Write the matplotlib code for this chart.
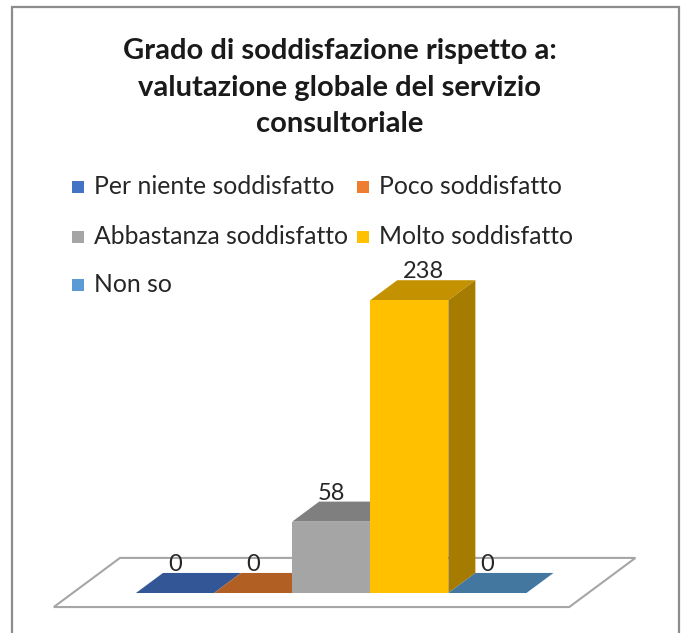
import matplotlib.pyplot as plt
from matplotlib.patches import Polygon, Rectangle

# dati
categorie = ['Per niente soddisfatto', 'Poco soddisfatto', 'Abbastanza soddisfatto',
             'Molto soddisfatto', 'Non so']
valori = [0, 0, 58, 238, 0]
colori = ['#4472C4', '#ED7D31', '#A5A5A5', '#FFC000', '#5B9BD5']
colori_top = ['#335796', '#B25F23', '#7F7F7F', '#C49200', '#44779F']
colori_lato = ['#2A4A80', '#96501E', '#6E6E6E', '#A67C00', '#3A668A']
titolo = 'Grado di soddisfazione rispetto a:\nvalutazione globale del servizio\nconsultoriale'

FONT = ['Lato', 'DejaVu Sans']
W, H = 681, 633
kx, ky = 0.346, 16.3   # spostamento prospettico per unita' di profondita'

fig = plt.figure(figsize=(W / 100, H / 100), dpi=100)

# cornice del grafico
fig.patches.append(Rectangle((12 / W, -0.05), (679 - 12) / W, 1.05 - 7 / H,
                             transform=fig.transFigure, fill=False,
                             edgecolor='#8C8C8C', linewidth=1.6))

fig.text(340 / W, 1 - 88 / H, titolo, ha='center', va='center', fontsize=21,
         fontweight='bold', family=FONT, linespacing=1.5, color='#1A1A1A')

ax = fig.add_axes([18.8 / W, 15.4 / H, 624.8 / W, 344.4 / H])
ax.set_xlim(-2, 6)
ax.set_ylim(-20, 260)
ax.axis('off')


def proj(x, v, z):
    return (x + z * kx, v + z * ky)


# pavimento
x0, x1 = -1.31, 5.29
z0, z1 = -0.7, 1.75
floor = [proj(x0, 0, z0), proj(x1, 0, z0), proj(x1, 0, z1), proj(x0, 0, z1)]
ax.add_patch(Polygon(floor, closed=True, facecolor='white', edgecolor='#A6A6A6',
                     linewidth=1.5, clip_on=False, zorder=1))

xs = list(range(len(valori)))
hw = 0.5
for i, v in enumerate(valori):
    # faccia superiore
    top = [proj(i - hw, v, 0), proj(i + hw, v, 0), proj(i + hw, v, 1), proj(i - hw, v, 1)]
    ax.add_patch(Polygon(top, closed=True, facecolor=colori_top[i], edgecolor='none',
                         clip_on=False, zorder=2 + i))
    if v > 0:
        lato = [proj(i + hw, 0, 0), proj(i + hw, v, 0), proj(i + hw, v, 1), proj(i + hw, 0, 1)]
        ax.add_patch(Polygon(lato, closed=True, facecolor=colori_lato[i], edgecolor='none',
                             clip_on=False, zorder=2 + i))
bars = ax.bar(xs, valori, width=1.0, color=colori, zorder=10)
for i, b in enumerate(bars):
    b.set_zorder(2.1 + i)

# etichette
label_dx = [0, 0, 0, 0.18, 0]
for i, v in enumerate(valori):
    x, y = proj(i + label_dx[i], v, 1)
    ax.text(i + label_dx[i], y + 1.5, str(v), ha='center', va='baseline',
            fontsize=17, family=FONT, color='#262626', zorder=20, clip_on=False)

# legenda
leg_x = [72, 357]
leg_y = [187, 237, 285]
for k, nome in enumerate(categorie):
    r, c = divmod(k, 2)
    fig.patches.append(Rectangle((leg_x[c] / W, 1 - (leg_y[r] + 6) / H), 12 / W, 12 / H,
                                 transform=fig.transFigure, facecolor=colori[k],
                                 edgecolor='none'))
    fig.text((leg_x[c] + 22) / W, 1 - leg_y[r] / H, nome, ha='left', va='center',
             fontsize=17.8, family=FONT, color='#262626')

fig.savefig('out.png', dpi=100)
